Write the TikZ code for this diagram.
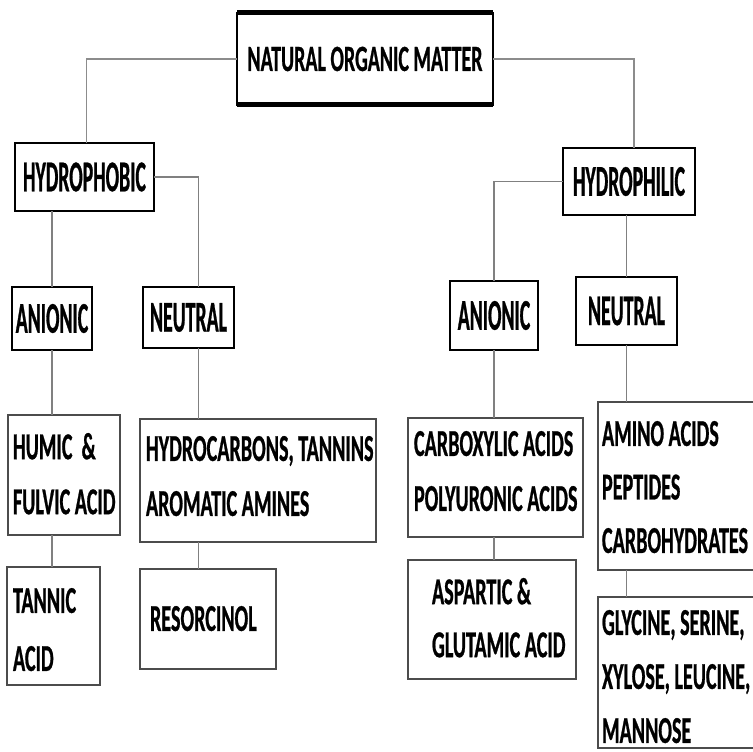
\documentclass[tikz,border=0pt]{standalone}
\usepackage{fontspec}
\newfontfamily\labN{Carlito Bold}[FakeStretch=0.54,FakeBold=0.6]
\newfontfamily\labL{Carlito Bold}[FakeStretch=0.45,FakeBold=0.6]
\newfontfamily\labS{Carlito Bold}[FakeStretch=0.53,FakeBold=0.6]
\begin{document}
\begin{tikzpicture}[x=1pt,y=-1pt,
  every node/.style={inner sep=0pt, outer sep=0pt},
  lvl/.style={draw=black, line width=2.6pt, anchor=north west, font=\labL\fontsize{44}{50}\selectfont},
  leaf/.style={draw=black!70, line width=1.4pt, anchor=north west},
  txt/.style={anchor=north west, align=left, font=\labS\fontsize{38}{#1}\selectfont},
  txt/.default=55,
  conn/.style={draw=black!50, line width=1.3pt},
  topconn/.style={draw=black!45, line width=1.8pt}]
\useasboundingbox[fill=white] (0,0) rectangle (753,752);
\clip (0,0) rectangle (753,752);

% top node
\node[lvl, minimum width=256, minimum height=92, font=\labN\fontsize{37}{44}\selectfont] (nom) at (237,13) {NATURAL ORGANIC MATTER};
\draw[line width=5pt] (nom.north west) -- (nom.north east);
\draw[line width=5pt] (nom.south west) -- (nom.south east);

% level 1
\node[lvl, minimum width=139, minimum height=68] (hphob) at (15,143) {HYDROPHOBIC};
\node[lvl, minimum width=132, minimum height=67] (hphil) at (563,148) {HYDROPHILIC};

% level 2
\node[lvl, minimum width=80, minimum height=63] (anL) at (12,287) {ANIONIC};
\node[lvl, minimum width=91, minimum height=61] (neuL) at (143,287) {NEUTRAL};
\node[lvl, minimum width=88, minimum height=69] (anR) at (450,281) {ANIONIC};
\node[lvl, minimum width=101, minimum height=68] (neuR) at (576,277) {NEUTRAL};

% leaf boxes
\node[leaf, minimum width=112, minimum height=120] (hum) at (8,415) {};
\node[leaf, minimum width=93, minimum height=118] (tan) at (7,567) {};
\node[leaf, minimum width=236, minimum height=123] (hyd) at (140,419) {};
\node[leaf, minimum width=136, minimum height=100] (res) at (140,569) {};
\node[leaf, minimum width=175, minimum height=119] (carb) at (408,418) {};
\node[leaf, minimum width=168, minimum height=119] (asp) at (408,560) {};
\node[leaf, minimum width=162, minimum height=168] (ami) at (598,402) {};
\node[leaf, minimum width=162, minimum height=151] (gly) at (598,597) {};

% leaf texts
\node[txt] (humt) at (13,433) {HUMIC\ \ \&\\FULVIC ACID};
\node[txt=58] (tant) at (13,588) {TANNIC\\ACID};
\node[txt] (hydt) at (146,436) {HYDROCARBONS, TANNINS\\AROMATIC AMINES};
\node[txt] (rest) at (150,606) {RESORCINOL};
\node[txt] (carbt) at (414,431) {CARBOXYLIC ACIDS\\POLYURONIC ACIDS};
\node[txt=53] (aspt) at (432,578) {ASPARTIC \&\\GLUTAMIC ACID};
\node[txt=53.5] (amit) at (602,421) {AMINO ACIDS\\PEPTIDES\\CARBOHYDRATES};
\node[txt=54] (glyt) at (602,610) {GLYCINE, SERINE,\\XYLOSE, LEUCINE,\\MANNOSE};

% connectors
\coordinate (nl) at ([xshift=10pt]neuL.south);
\draw[topconn] (nom.west) -| ([xshift=2pt]hphob.north);
\draw[topconn] (nom.east) -| ([xshift=5pt]hphil.north);
\draw[conn] (hphob.east) -| ([xshift=10pt]neuL.north);
\draw[conn] (anL.north) -- (anL.north |- hphob.south);
\draw[conn] (hphil.west) -| (anR.north);
\draw[conn] (neuR.north) -- (neuR.north |- hphil.south);
\draw[conn] (anL.south) -- (anL.south |- hum.north);
\draw[conn] (anL.south |- hum.south) -- (anL.south |- tan.north);
\draw[conn] (nl) -- (nl |- hyd.north);
\draw[conn] (nl |- hyd.south) -- (nl |- res.north);
\draw[conn] (anR.south) -- (anR.south |- carb.north);
\draw[conn] (anR.south |- carb.south) -- (anR.south |- asp.north);
\draw[conn] (neuR.south) -- (neuR.south |- ami.north);
\draw[conn] (neuR.south |- ami.south) -- (neuR.south |- gly.north);
\end{tikzpicture}
\end{document}
